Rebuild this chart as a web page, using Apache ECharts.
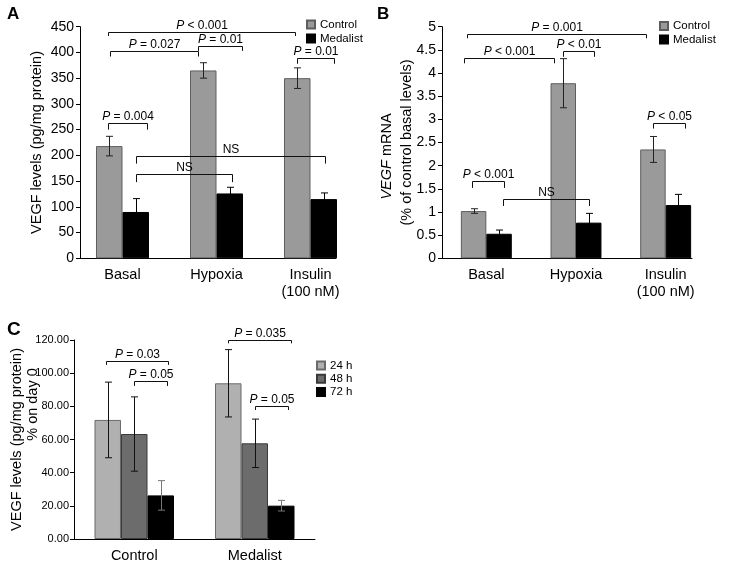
<!DOCTYPE html>
<html><head><meta charset="utf-8">
<script src="https://cdn.jsdelivr.net/npm/echarts@6/dist/echarts.min.js"></script>
<style>html,body{margin:0;padding:0;background:#fff}#c{width:731px;height:568px}</style>
</head><body><div id="c"></div>
<script>
const FONT = "'Liberation Sans', Arial, Helvetica, sans-serif";

// ---------- Panel A ----------
const catsAB = ['Basal', 'Hypoxia', 'Insulin\n(100 nM)'];
const aControl = [218, 365, 350];
const aControlErr = [19, 15, 20];
const aMedalist = [90, 126, 115];
const aMedalistErr = [26, 12, 12];
const aAxis = { min: 0, max: 450, interval: 50 };
// [cat1, offset1 (band fraction), cat2, offset2, y, leftLegEnd, rightLegEnd]
const aBrackets = [
  [0, -0.157, 2, -0.165, 440, 432, 432],
  [0, -0.133, 1, -0.194, 403, 392, 392],
  [1, -0.194, 1, 0.274, 413, 403, 403],
  [2, -0.147, 2, 0.253, 390, 378, 378],
  [0, -0.157, 0, 0.257, 263, 250, 250],
  [0, 0.144, 2, 0.154, 198.5, 184, 184],
  [0, 0.144, 1, 0.162, 163, 148, 148]
];
const aBracketLabels = ['P < 0.001', 'P = 0.027', 'P = 0.01', 'P = 0.01', 'P = 0.004', 'NS', 'NS'];

// ---------- Panel B ----------
const bControl = [1.02, 3.78, 2.35];
const bControlErr = [0.05, 0.53, 0.28];
const bMedalist = [0.53, 0.77, 1.15];
const bMedalistErr = [0.08, 0.20, 0.23];
const bAxis = { min: 0, max: 5, interval: 0.5 };
const bBrackets = [
  [0, -0.219, 2, -0.219, 4.84, 4.75, 4.75],
  [0, -0.245, 1, -0.240, 4.32, 4.21, 4.21],
  [1, -0.150, 1, 0.203, 4.48, 4.35, 4.35],
  [2, -0.138, 2, 0.215, 2.93, 2.80, 2.80],
  [0, -0.156, 0, 0.200, 1.66, 1.52, 1.52],
  [0, 0.183, 1, 0.140, 1.275, 1.13, 1.13]
];
const bBracketLabels = ['P = 0.001', 'P < 0.001', 'P < 0.01', 'P < 0.05', 'P < 0.001', 'NS'];

// ---------- Panel C ----------
const catsC = ['Control', 'Medalist'];
const c24 = [71.8, 93.9];
const c24Err = [22.8, 20.3];
const c48 = [63.3, 57.7];
const c48Err = [22.4, 14.6];
const c72 = [26.3, 20.1];
const c72Err = [8.9, 3.2];
const cAxis = { min: 0, max: 120, interval: 20 };
const cBrackets = [
  [0, -0.236, 0, 0.283, 107.4, 105, 105],
  [0, -0.004, 0, 0.270, 95.3, 92.3, 92.3],
  [1, -0.223, 1, 0.299, 120, 118, 118],
  [1, 0.006, 1, 0.279, 80.4, 77.8, 77.8]
];
const cBracketLabels = ['P = 0.03', 'P = 0.05', 'P = 0.035', 'P = 0.05'];

const fracAB_A = 0.282, fracAB_B = 0.284, fracC = 0.22;

function errSeries(vals, errs, idx, n, frac, gi, color) {
  return {
    type: 'custom', xAxisIndex: gi, yAxisIndex: gi, z: 5, silent: true, clip: false,
    data: vals.map((v, i) => [i, v + errs[i], v - errs[i]]),
    encode: { x: 0, y: [1, 2] },
    renderItem: (params, api) => {
      const c = api.value(0);
      const band = api.size([1, 0])[0];
      const off = (idx - (n - 1) / 2) * band * frac;
      const top = api.coord([c, api.value(1)]);
      const bot = api.coord([c, api.value(2)]);
      const x = Math.round(top[0] + off) + 0.5;
      const cw = 3.5;
      const st = { stroke: color, lineWidth: 1 };
      return { type: 'group', children: [
        { type: 'line', shape: { x1: x, y1: top[1], x2: x, y2: bot[1] }, style: st },
        { type: 'line', shape: { x1: x - cw, y1: top[1], x2: x + cw, y2: top[1] }, style: st },
        { type: 'line', shape: { x1: x - cw, y1: bot[1], x2: x + cw, y2: bot[1] }, style: st }
      ]};
    }
  };
}

function bracketSeries(list, labels, gi) {
  return {
    type: 'custom', xAxisIndex: gi, yAxisIndex: gi, z: 6, silent: true, clip: false,
    data: list.map(b => [b[0], b[4]]),
    encode: { x: 0, y: 1 },
    renderItem: (params, api) => {
      const b = list[params.dataIndex];
      const band = api.size([1, 0])[0];
      const pA = api.coord([b[0], b[4]]);
      const pB = api.coord([b[2], b[4]]);
      const x1 = Math.round(pA[0] + b[1] * band) + 0.5;
      const x2 = Math.round(pB[0] + b[3] * band) + 0.5;
      const y = Math.round(pA[1]) + 0.5;
      const yl = api.coord([b[0], b[5]])[1];
      const yr = api.coord([b[2], b[6]])[1];
      const lbl = labels[params.dataIndex];
      const text = lbl.charAt(0) === 'P' ? '{i|P}' + lbl.slice(1) : lbl;
      return { type: 'group', children: [
        { type: 'polyline', shape: { points: [[x1, yl], [x1, y], [x2, y], [x2, yr]] },
          style: { stroke: '#111', fill: 'none', lineWidth: 1 } },
        { type: 'text', x: (x1 + x2) / 2, y: y - 1,
          style: { text: text, align: 'center', verticalAlign: 'bottom', fill: '#000',
            fontSize: 12, fontFamily: FONT,
            rich: { i: { fontStyle: 'italic', fontSize: 12, fontFamily: FONT, fill: '#000' } } } }
      ]};
    }
  };
}

function valueAxis(gi, ax, offset, fontSize, margin, formatter, nameCfg) {
  return Object.assign({
    gridIndex: gi, type: 'value', min: ax.min, max: ax.max, interval: ax.interval, offset: offset,
    nameMoveOverlap: false,
    axisLine: { show: true, lineStyle: { color: '#000', width: 1 } },
    axisTick: { show: true, length: 4, lineStyle: { color: '#000' } },
    splitLine: { show: false },
    axisLabel: { fontSize: fontSize, color: '#000', margin: margin, fontFamily: FONT, formatter: formatter }
  }, nameCfg);
}

function catAxis(gi, cats, showLine) {
  return {
    gridIndex: gi, type: 'category', data: cats,
    axisLine: { show: showLine, lineStyle: { color: '#000' } },
    axisTick: { show: false },
    axisLabel: { fontSize: 14.5, color: '#000', margin: 8, lineHeight: 17, fontFamily: FONT, interval: 0 }
  };
}

function auxX(gi) {
  return { gridIndex: gi, type: 'value', min: 0, max: 1,
    axisLine: { show: true, lineStyle: { color: '#000' } },
    axisTick: { show: false }, axisLabel: { show: false }, splitLine: { show: false } };
}
function auxY(gi) {
  return { gridIndex: gi, type: 'value', show: false, splitLine: { show: false } };
}

const grayCtrl = { color: '#9a9a9a', borderColor: '#5e5e5e', borderWidth: 1 };
const black = { color: '#000', borderColor: '#000', borderWidth: 1 };

const option = {
  animation: false,
  backgroundColor: '#fff',
  textStyle: { fontFamily: FONT },
  title: [
    { text: 'A', left: 7, top: 6, padding: 0, textStyle: { fontSize: 17, fontWeight: 'bold', color: '#000', fontFamily: FONT } },
    { text: 'B', left: 377, top: 6, padding: 0, textStyle: { fontSize: 17, fontWeight: 'bold', color: '#000', fontFamily: FONT } },
    { text: 'C', left: 7, top: 320, padding: 0, textStyle: { fontSize: 19, fontWeight: 'bold', color: '#000', fontFamily: FONT } }
  ],
  legend: [
    { orient: 'vertical', left: 301, top: 13, itemWidth: 8, itemHeight: 8, itemGap: 1, icon: 'rect',
      data: ['Control', 'Medalist'], selectedMode: false,
      textStyle: { fontSize: 11.5, color: '#000', lineHeight: 13, fontFamily: FONT } },
    { orient: 'vertical', left: 654, top: 14.5, itemWidth: 8, itemHeight: 8, itemGap: 0.5, icon: 'rect',
      data: ['Control', 'Medalist'], selectedMode: false,
      textStyle: { fontSize: 11.5, color: '#000', lineHeight: 13, fontFamily: FONT } },
    { orient: 'vertical', left: 311, top: 354, itemWidth: 8, itemHeight: 8, itemGap: 0.3, icon: 'rect',
      data: ['24 h', '48 h', '72 h'], selectedMode: false,
      textStyle: { fontSize: 11.5, color: '#000', lineHeight: 13, fontFamily: FONT } }
  ],
  grid: [
    { left: 75.5, top: 26.7, width: 282, height: 231.6, containLabel: false, outerBoundsMode: 'none' },
    { left: 441.5, top: 26.7, width: 269, height: 231.6, containLabel: false, outerBoundsMode: 'none' },
    { left: 74, top: 340, width: 241, height: 199, containLabel: false, outerBoundsMode: 'none' },
    { left: 80, top: 26.7, width: 256, height: 231.6, containLabel: false, outerBoundsMode: 'none' },
    { left: 442, top: 26.7, width: 250, height: 231.6, containLabel: false, outerBoundsMode: 'none' }
  ],
  xAxis: [
    catAxis(0, catsAB, false),
    catAxis(1, catsAB, false),
    catAxis(2, catsC, true),
    auxX(3),
    auxX(4)
  ],
  yAxis: [
    valueAxis(0, aAxis, -4.5, 14, 6, null, {
      name: 'VEGF levels (pg/mg protein)', nameLocation: 'middle', nameGap: 35,
      nameTextStyle: { fontSize: 14.5, color: '#000', lineHeight: 17, fontFamily: FONT } }),
    valueAxis(1, bAxis, -0.5, 14, 6, null, {
      name: '{i|VEGF}{n| mRNA}\n{m|(% of control basal levels)}', nameLocation: 'middle', nameGap: 25,
      nameTextStyle: { fontSize: 14.5, color: '#000', lineHeight: 20, fontFamily: FONT,
        rich: {
          i: { fontStyle: 'italic', fontSize: 14.5, fontFamily: FONT, color: '#000', lineHeight: 20 },
          n: { fontSize: 14.5, fontFamily: FONT, color: '#000', lineHeight: 20, padding: [0, 28, 0, 0] },
          m: { fontSize: 14.5, fontFamily: FONT, color: '#000', lineHeight: 20 }
        } } }),
    valueAxis(2, cAxis, 0, 11, 5, v => v.toFixed(2), {
      name: '{a|VEGF levels (pg/mg protein)}\n{b|% on day 0}', nameLocation: 'middle', nameGap: 33,
      nameTextStyle: { fontSize: 14.5, color: '#000', lineHeight: 16, fontFamily: FONT,
        rich: {
          a: { fontSize: 14.5, fontFamily: FONT, color: '#000', lineHeight: 16 },
          b: { fontSize: 14.5, fontFamily: FONT, color: '#000', lineHeight: 16, padding: [0, 0, 0, 70] }
        } } }),
    auxY(3),
    auxY(4)
  ],
  series: [
    { type: 'bar', name: 'Control', xAxisIndex: 0, yAxisIndex: 0, data: aControl, barWidth: (fracAB_A * 100) + '%', barGap: '0%', itemStyle: grayCtrl, silent: true },
    { type: 'bar', name: 'Medalist', xAxisIndex: 0, yAxisIndex: 0, data: aMedalist, barWidth: (fracAB_A * 100) + '%', barGap: '0%', itemStyle: black, silent: true },
    errSeries(aControl, aControlErr, 0, 2, fracAB_A, 0, '#222'),
    errSeries(aMedalist, aMedalistErr, 1, 2, fracAB_A, 0, '#000'),
    bracketSeries(aBrackets, aBracketLabels, 0),

    { type: 'bar', name: 'Control', xAxisIndex: 1, yAxisIndex: 1, data: bControl, barWidth: (fracAB_B * 100) + '%', barGap: '0%', itemStyle: grayCtrl, silent: true },
    { type: 'bar', name: 'Medalist', xAxisIndex: 1, yAxisIndex: 1, data: bMedalist, barWidth: (fracAB_B * 100) + '%', barGap: '0%', itemStyle: black, silent: true },
    errSeries(bControl, bControlErr, 0, 2, fracAB_B, 1, '#222'),
    errSeries(bMedalist, bMedalistErr, 1, 2, fracAB_B, 1, '#000'),
    bracketSeries(bBrackets, bBracketLabels, 1),

    { type: 'bar', name: '24 h', xAxisIndex: 2, yAxisIndex: 2, data: c24, barWidth: (fracC * 100) + '%', barGap: '0%', itemStyle: { color: '#b0b0b0', borderColor: '#6a6a6a', borderWidth: 1 }, silent: true },
    { type: 'bar', name: '48 h', xAxisIndex: 2, yAxisIndex: 2, data: c48, barWidth: (fracC * 100) + '%', barGap: '0%', itemStyle: { color: '#6c6c6c', borderColor: '#3a3a3a', borderWidth: 1 }, silent: true },
    { type: 'bar', name: '72 h', xAxisIndex: 2, yAxisIndex: 2, data: c72, barWidth: (fracC * 100) + '%', barGap: '0%', itemStyle: black, silent: true },
    errSeries(c24, c24Err, 0, 3, fracC, 2, '#111'),
    errSeries(c48, c48Err, 1, 3, fracC, 2, '#111'),
    errSeries(c72, c72Err, 2, 3, fracC, 2, '#777'),
    bracketSeries(cBrackets, cBracketLabels, 2)
  ]
};

const chart = echarts.init(document.getElementById('c'), null, { renderer: 'canvas' });
chart.setOption(option);
</script>
</body></html>
